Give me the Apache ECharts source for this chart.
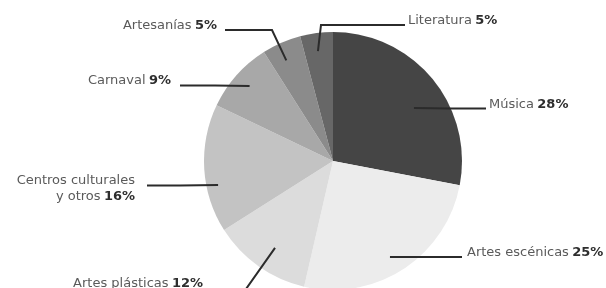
<!DOCTYPE html>
<html>
<head>
<meta charset="utf-8">
<script src="https://cdn.jsdelivr.net/npm/echarts@6/dist/echarts.min.js"></script>
<style>
  html, body { margin: 0; padding: 0; background: #fff; }
  #chart { width: 606px; height: 288px; }
</style>
</head>
<body>
<div id="chart"></div>
<script>
// datos, en el orden del dibujo (desde las 12 en sentido horario)
var categorias = ["Música", "Artes escénicas", "Artes plásticas", "Centros culturales\ny otros", "Carnaval", "Artesanías", "Literatura"];
var porcentajes = [28, 25, 12, 16, 9, 5, 5];           // lo que dicen las etiquetas
var valores = [28, 25.6, 12.4, 16.1, 8.9, 4.9, 4.1];   // tamaño de cada porción tal como se ve
var grises = ["#454545", "#ececec", "#dcdcdc", "#c3c3c3", "#a8a8a8", "#8b8b8b", "#676767"];

// posiciones de etiquetas y líneas (solo diseño)
var centro = [333, 161], radio = 129;
var etiquetas = [
    // ang/f: inicio de la línea dentro de la porción
    {ang: 56.8,  f: 0.75,  codo: [450, 108.5], fin: [486, 108.5], x: 489, y: 104.5, align: "left"},
    {ang: 149.3, f: 0.865, codo: [426, 257],   fin: [462, 257],   x: 467, y: 252.5, align: "left"},
    {ang: 213.7, f: 0.81,  codo: [246, 289],   fin: [208, 289],   x: 203, y: 283.5, align: "right"},
    {ang: 258.2, f: 0.91,  codo: [180, 185.5], fin: [147, 185.5], x: 135, y: 188.5, align: "right"},
    {ang: 312,   f: 0.87,  codo: [215, 85.5],  fin: [180, 85.5],  x: 171, y: 81,    align: "right"},
    {ang: 335.1, f: 0.86,  codo: [272, 30],    fin: [225, 30],    x: 217, y: 26,    align: "right"},
    {ang: 352.2, f: 0.86,  codo: [321, 25],    fin: [405, 25],    x: 408, y: 20.5,  align: "left"}
];

var datos = categorias.map(function (c, i) {
    return {name: c, value: valores[i], itemStyle: {color: grises[i]}};
});
// misma serie, transparente, solo para dibujar etiquetas y líneas encima de las porciones
var datosEtiquetas = categorias.map(function (c, i) {
    return {name: c, value: valores[i], itemStyle: {color: "rgba(0,0,0,0)"}};
});

var myChart = echarts.init(document.getElementById("chart"));

var option = {
    animation: false,
    series: [
        {
            type: "pie",
            center: centro,
            radius: radio,
            startAngle: 90,
            clockwise: true,
            label: {show: false},
            labelLine: {show: false},
            data: datos
        },
        {
            type: "pie",
            z: 5,
            silent: true,
            center: centro,
            radius: radio,
            startAngle: 90,
            clockwise: true,
            avoidLabelOverlap: false,
            label: {
                show: true,
                position: "outside",
                formatter: function (p) {
                    var partes = p.name.split("\n");
                    var ultima = partes.pop();
                    var txt = partes.map(function (s) { return "{n|" + s + "}"; });
                    txt.push("{n|" + ultima + "} {p|" + porcentajes[p.dataIndex] + "%}");
                    return txt.join("\n");
                },
                rich: {
                    n: {fontFamily: "DejaVu Sans", fontSize: 13, color: "#5a5a5a", lineHeight: 16},
                    p: {fontFamily: "DejaVu Sans", fontSize: 13, fontWeight: "bold", color: "#2e2e2e", lineHeight: 16}
                }
            },
            labelLine: {
                show: true,
                showAbove: true,
                lineStyle: {color: "#2b2b2b", width: 2}
            },
            labelLayout: function (params) {
                var e = etiquetas[params.dataIndex];
                var a = e.ang * Math.PI / 180;
                var ini = [centro[0] + e.f * radio * Math.sin(a), centro[1] - e.f * radio * Math.cos(a)];
                return {
                    x: e.x,
                    y: e.y,
                    align: e.align,
                    verticalAlign: "middle",
                    labelLinePoints: [ini, e.codo, e.fin]
                };
            },
            data: datosEtiquetas
        }
    ]
};

myChart.setOption(option);
</script>
</body>
</html>
